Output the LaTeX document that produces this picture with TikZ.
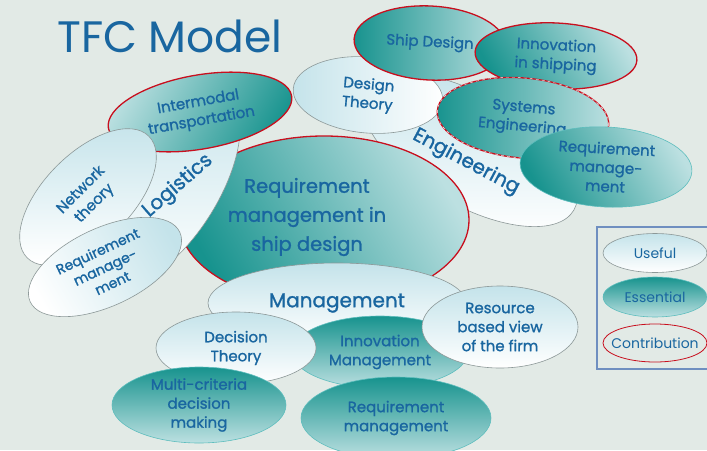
\documentclass[tikz,border=0pt]{standalone}
\usepackage{fontspec}
\setmainfont{Poppins}
\newfontfamily\lblfont{Poppins}[FakeBold=1.2]
\usetikzlibrary{shapes.geometric}
\definecolor{bgcol}{HTML}{E2EAE6}
\definecolor{txtblue}{HTML}{1966A0}
\definecolor{tealdk}{HTML}{17938E}
\definecolor{teallt}{HTML}{BCE0E1}
\definecolor{uselt}{HTML}{C4E3EA}
\definecolor{usedge}{HTML}{8C9898}
\definecolor{essedge}{HTML}{5DBDBD}
\definecolor{redline}{HTML}{C80F1E}
\definecolor{keyedge}{HTML}{6F8FC0}
\begin{document}
\begin{tikzpicture}
		[x=1pt,y=-1pt,
		useful/.style={ellipse,draw=usedge,semithick,top color=uselt,bottom color=white,
inner sep=-30pt,text=txtblue,align=center,font=\lblfont\fontsize{15}{19}\selectfont},
		essential/.style={useful,draw=essedge,top color=tealdk,bottom color=teallt},
		contrib/.style={draw=redline,line width=1.3pt},
		bigword/.style={text=txtblue,align=center,font=\lblfont\fontsize{20}{24}\selectfont},
		keyword/.style={text=txtblue,font=\fontsize{14}{17}\selectfont}]
		\useasboundingbox[fill=bgcol] (0,0) rectangle (707,450);
		\node at (470,150) (eng) [useful,rotate=-30,minimum width=240pt,minimum height=110pt] {};
		\node at (466,162) (eng-text) [bigword,rotate=-28] {Engineering};
		\node at (324,220) (core) [essential,contrib,shading angle=120,minimum width=290pt,minimum height=168pt] {};
		\node at (307,217) (core-text) [bigword,font=\lblfont\fontsize{19.5}{29}\selectfont] {Requirement\\management in\\ship design};
		\node at (168,188) (logi) [useful,rotate=58,minimum width=220pt,minimum height=100pt] {};
		\node at (178,186) (logi-text) [bigword,rotate=41] {Logistics};
		\node at (200,112) (intermodal) [essential,contrib,shading angle=-120,rotate=10,minimum width=186pt,minimum height=74pt] {Intermodal\\transportation};
		\node at (88,197) (network) [useful,rotate=45,minimum width=172pt,minimum height=88pt] {Network\\theory};
		\node at (105,267) (req-left) [useful,rotate=25,shading angle=-60,minimum width=165pt,minimum height=78pt,font=\lblfont\fontsize{14}{17.5}\selectfont] {Requirement\\manage-\\ment};
		\node at (368,95) (design) [useful,rotate=-5,shading angle=90,minimum width=150pt,minimum height=76pt] {Design\\Theory};
		\node at (430,43) (ship) [essential,contrib,shading angle=90,rotate=-3,minimum width=152pt,minimum height=74pt] {Ship Design};
		\node at (556,56) (shipping) [essential,contrib,shading angle=120,rotate=-3,minimum width=162pt,minimum height=66pt] {Innovation\\in shipping};
		\node at (523,118) (systems) [essential,contrib,shading angle=90,rotate=-5,minimum width=172pt,minimum height=80pt] {Systems\\Engineering};
		\node at (523,118) (systems-dash) [ellipse,draw=white,dashed,thin,rotate=-5,minimum width=172pt,minimum height=80pt] {};
		\node at (606,167) (req-right) [essential,shading angle=120,rotate=-3,minimum width=172pt,minimum height=80pt] {Requirement\\manage-\\ment};
		\node at (337,303) (mgmt) [useful,minimum width=258pt,minimum height=80pt,font=\lblfont\fontsize{20}{24}\selectfont] {Management};
		\node at (380,352) (innov) [essential,minimum width=176pt,minimum height=72pt] {Innovation\\Management};
		\node at (236,348) (decision) [useful,minimum width=160pt,minimum height=72pt] {Decision\\Theory};
		\node at (500,327) (resource) [useful,minimum width=156pt,minimum height=82pt] {Resource\\based view\\of the firm};
		\node at (199,405) (multi) [essential,minimum width=174pt,minimum height=76pt] {Multi-criteria\\decision\\making};
		\node at (396,418) (req-bottom) [essential,minimum width=190pt,minimum height=82pt] {Requirement\\management};
		\node at (597,227) (key-nw) [coordinate] {};
		\node at (712,369) (key-se) [coordinate] {};
		\draw [keyedge,line width=1.2pt] (key-nw) rectangle (key-se);
		\node at (655,253) (key-useful) [useful,minimum width=104pt,minimum height=39pt,keyword] {Useful};
		\node at (655,297) (key-essential) [essential,minimum width=104pt,minimum height=40pt,keyword] {Essential};
		\node at (655,343) (key-contrib) [ellipse,draw=redline,thick,inner sep=-30pt,minimum width=104pt,minimum height=38pt,keyword] {Contribution};
		\node at (170,52) (title) [anchor=base,text=txtblue,font=\fontsize{44}{48}\selectfont] {TFC Model};
	\end{tikzpicture}
\end{document}
